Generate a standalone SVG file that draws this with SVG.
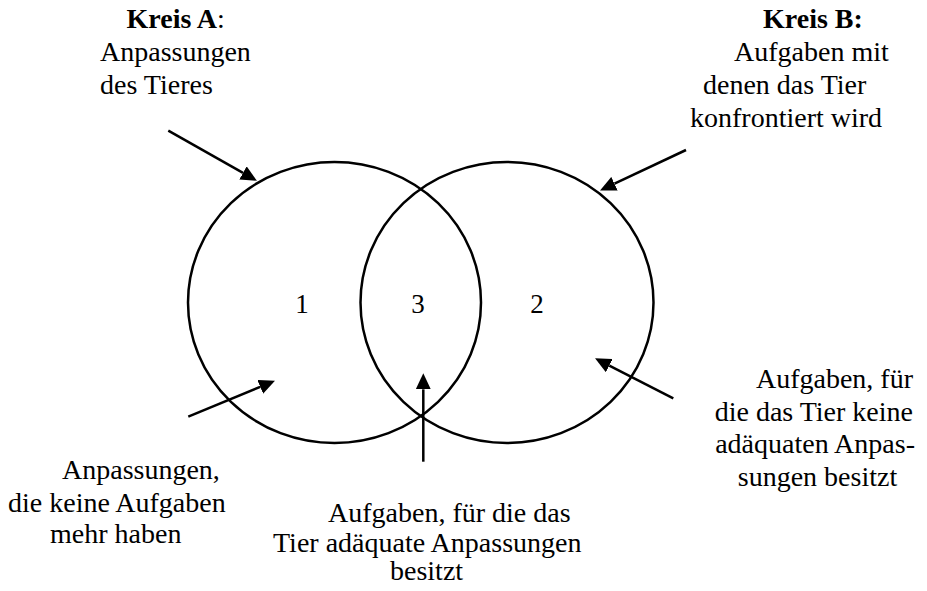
<svg xmlns="http://www.w3.org/2000/svg" width="927" height="591" viewBox="0 0 927 591">
<style>
text{font-family:"Liberation Serif","Times New Roman",serif;font-size:28px;fill:#000}
.b{font-weight:bold}
.num{font-size:27px;text-anchor:middle}
.end{text-anchor:end}
.mid{text-anchor:middle}
.circ{fill:none;stroke:#000;stroke-width:2.5}
.arr{stroke:#000;stroke-width:2.5;fill:none;marker-end:url(#ah)}
</style>
<defs>
<marker id="ah" markerUnits="userSpaceOnUse" markerWidth="16" markerHeight="15" refX="0" refY="7.5" orient="auto">
<path d="M0,0 L16,7.5 L0,15 z" fill="#000"/>
</marker>
<clipPath id="frag"><rect x="635" y="290" width="3" height="28"/></clipPath>
</defs>
<g id="kreisA">
<ellipse class="circ" cx="334.5" cy="302.5" rx="146.5" ry="140.5"/>
<text class="num" x="302" y="313">1</text>
</g>
<g id="kreisB">
<ellipse class="circ" cx="507" cy="302.5" rx="146.5" ry="140.5"/>
<text class="num" x="537" y="313">2</text>
<text class="num" x="646" y="313" clip-path="url(#frag)">2</text>
</g>
<g id="schnitt">
<text class="num" x="418" y="313">3</text>
</g>
<g id="connectors">
<line class="arr" x1="168.3" y1="130.7" x2="243" y2="172.9"/>
<line class="arr" x1="686" y1="150" x2="614.5" y2="183.7"/>
<line class="arr" x1="188.3" y1="416.7" x2="260.2" y2="386.8"/>
<line class="arr" x1="423.3" y1="461.7" x2="423.3" y2="389.3"/>
<line class="arr" x1="673.3" y1="398.3" x2="609.3" y2="365.6"/>
</g>
<g id="labelA">
<text x="126.5" y="28"><tspan class="b">Kreis A</tspan>:</text>
<text x="100" y="61">Anpassungen</text>
<text x="100" y="94">des Tieres</text>
</g>
<g id="labelB">
<text class="b" x="763" y="28">Kreis B:</text>
<text x="734" y="61">Aufgaben mit</text>
<text x="703" y="94">denen das Tier</text>
<text x="690" y="127">konfrontiert wird</text>
</g>
<g id="label1">
<text x="62" y="479">Anpassungen,</text>
<text x="8" y="511.5">die keine Aufgaben</text>
<text x="50" y="543">mehr haben</text>
</g>
<g id="label3">
<text x="328" y="521.5">Aufgaben, für die das</text>
<text x="273" y="551.5">Tier adäquate Anpassungen</text>
<text x="390" y="580">besitzt</text>
</g>
<g id="label2">
<text class="end" x="913" y="388">Aufgaben, für</text>
<text class="end" x="913" y="420.5">die das Tier keine</text>
<text class="end" x="915" y="453">adäquaten Anpas-</text>
<text class="mid" x="817.5" y="485.5">sungen besitzt</text>
</g>
</svg>
